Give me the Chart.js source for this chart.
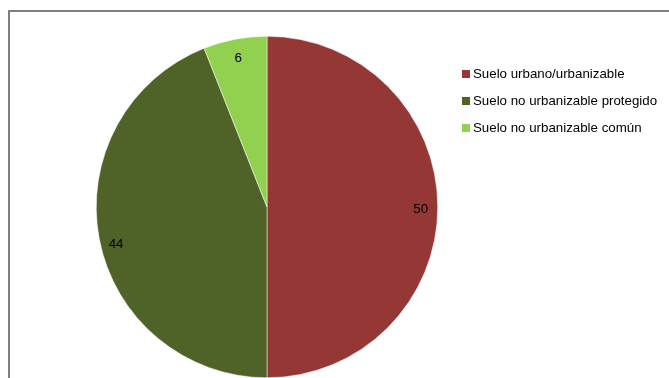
<!DOCTYPE html>
<html>
<head>
<meta charset="utf-8">
<script src="https://cdn.jsdelivr.net/npm/chart.js@4/dist/chart.umd.min.js"></script>
<style>
  html, body { margin: 0; padding: 0; background: #ffffff; }
  #wrap { position: relative; width: 669px; height: 378px; }
</style>
</head>
<body>
<div id="wrap"><canvas id="sueloChart" width="669" height="378"></canvas></div>
<script>
// chart data
const categories = ['Suelo urbano/urbanizable', 'Suelo no urbanizable protegido', 'Suelo no urbanizable común'];
const values = [50, 44, 6];
const sliceColors = ['#953735', '#4F6228', '#92D050'];

const FONT = '13.3px "Liberation Sans", Arial, sans-serif';

/**
 * Frame lines (top + left, like the cropped Excel chart border)
 */
const frame = {
    id: 'frame',
    beforeDraw: function(chart) {
        const ctx = chart.ctx;
        ctx.save();
        ctx.strokeStyle = '#7f7f7f';
        ctx.lineWidth = 2;
        ctx.beginPath();
        ctx.moveTo(9, 378);
        ctx.lineTo(9, 11);
        ctx.lineTo(669, 11);
        ctx.stroke();
        ctx.restore();
    }
};

/**
 * Value labels inside slices
 */
const sliceLabels = {
    id: 'sliceLabels',
    afterDatasetsDraw: function(chart) {
        const ctx = chart.ctx;
        const meta = chart.getDatasetMeta(0);
        ctx.save();
        ctx.font = FONT;
        ctx.fillStyle = '#000000';
        ctx.textAlign = 'center';
        ctx.textBaseline = 'middle';
        meta.data.forEach(function(arc, i) {
            const mid = (arc.startAngle + arc.endAngle) / 2;
            const r = arc.outerRadius * 0.9;
            // small downward nudge like the Excel label boxes
            const dy = Math.sin(mid) > 0 ? 3 : 2;
            ctx.fillText(String(values[i]), arc.x + Math.cos(mid) * r, arc.y + Math.sin(mid) * r + dy + (Math.sin(mid) > 0.1 ? 6 : 0));
        });
        ctx.restore();
    }
};

/**
 * Legend on the right, top aligned
 */
const sideLegend = {
    id: 'sideLegend',
    afterDraw: function(chart) {
        const ctx = chart.ctx;
        ctx.save();
        ctx.font = FONT;
        ctx.textBaseline = 'middle';
        ctx.textAlign = 'left';
        categories.forEach(function(label, i) {
            const y = 74 + i * 27;
            ctx.fillStyle = sliceColors[i];
            ctx.fillRect(462, y - 4, 8, 8);
            ctx.fillStyle = '#000000';
            ctx.fillText(label, 473, y);
        });
        ctx.restore();
    }
};

new Chart(document.getElementById('sueloChart').getContext('2d'), {
    type: 'pie',
    data: {
        labels: categories,
        datasets: [{
            data: values,
            backgroundColor: sliceColors,
            borderColor: '#ffffff',
            borderWidth: 0.5
        }]
    },
    options: {
        responsive: false,
        animation: false,
        layout: {
            padding: { left: 96, right: 231, top: 36, bottom: 0 }
        },
        plugins: {
            legend: { display: false },
            tooltip: { enabled: false }
        }
    },
    plugins: [frame, sliceLabels, sideLegend]
});
</script>
</body>
</html>
